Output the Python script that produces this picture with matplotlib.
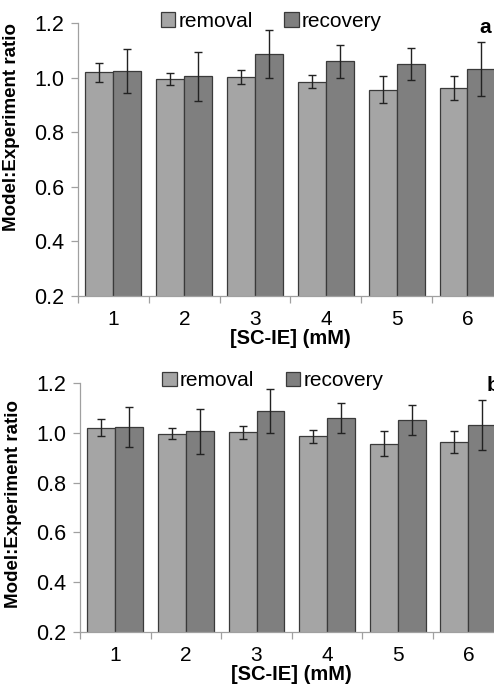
import numpy as np
import matplotlib
matplotlib.use('Agg')
import matplotlib.pyplot as plt

plt.rcParams['font.family'] = ['Liberation Sans', 'DejaVu Sans']

conc = ['1', '2', '3', '4', '5', '6']

removal = [1.02, 0.995, 1.002, 0.985, 0.956, 0.962]
removal_err = [0.035, 0.022, 0.026, 0.025, 0.05, 0.043]
recovery = [1.024, 1.005, 1.085, 1.06, 1.05, 1.032]
recovery_err = [0.08, 0.09, 0.088, 0.06, 0.06, 0.1]

c_removal = '#a5a5a5'
c_recovery = '#7f7f7f'
axis_grey = '#a0a0a0'

fig = plt.figure(figsize=(4.94, 6.94), dpi=100)

# axes positions (figure coords), right edge runs past the figure like the original crop
ax_a = fig.add_axes([0.158, 0.5735, 0.86, 0.3934])
ax_b = fig.add_axes([0.162, 0.0889, 0.8575, 0.3597])


def draw_panel(ax, letter, letter_xy, ylabel_y):
    x = np.arange(len(conc))
    w = 0.395
    ax.bar(x - w / 2, removal, w, bottom=0, color=c_removal, edgecolor='#3a3a3a',
           linewidth=0.9, label='removal', zorder=2)
    ax.bar(x + w / 2, recovery, w, bottom=0, color=c_recovery, edgecolor='#3a3a3a',
           linewidth=0.9, label='recovery', zorder=2)
    ax.errorbar(x - w / 2, removal, yerr=removal_err, fmt='none', ecolor='#222222',
                elinewidth=1.0, capsize=3.2, capthick=1.0, zorder=3)
    ax.errorbar(x + w / 2, recovery, yerr=recovery_err, fmt='none', ecolor='#222222',
                elinewidth=1.0, capsize=3.2, capthick=1.0, zorder=3)

    ax.set_ylim(0.2, 1.2)
    ax.set_xlim(-0.5, len(conc) - 0.5)
    ax.set_yticks([0.2, 0.4, 0.6, 0.8, 1.0, 1.2])
    ax.set_yticklabels(['0.2', '0.4', '0.6', '0.8', '1.0', '1.2'])
    ax.set_xticks(x)
    ax.set_xticklabels(conc)
    ax.set_xticks(np.arange(len(conc)) - 0.5, minor=True)
    ax.tick_params(axis='x', which='major', length=0, pad=10, labelsize=15)
    ax.tick_params(axis='x', which='minor', length=5, color=axis_grey, width=0.9)
    ax.tick_params(axis='y', length=5, color=axis_grey, width=0.9, labelsize=15.5, pad=5)

    for s in ['top', 'right']:
        ax.spines[s].set_visible(False)
    for s in ['left', 'bottom']:
        ax.spines[s].set_color(axis_grey)
        ax.spines[s].set_linewidth(0.9)

    ax.set_xlabel('[SC-IE] (mM)', fontsize=14.5, fontweight='bold', labelpad=0)
    ax.set_ylabel('Model:Experiment ratio', fontsize=13.5, fontweight='bold')
    ax.yaxis.set_label_coords(-0.137, ylabel_y)

    leg = ax.legend(loc='center', bbox_to_anchor=(0.455, 1.007), ncol=2, frameon=False,
                    fontsize=15, handlelength=0.7, handleheight=0.7, handletextpad=0.15,
                    columnspacing=1.5, borderaxespad=0)
    for h in leg.legend_handles:
        h.set_edgecolor('#3a3a3a')
        h.set_linewidth(0.9)

    fig.text(letter_xy[0], letter_xy[1], letter, fontsize=15, fontweight='bold',
             ha='center', va='center')


draw_panel(ax_a, 'a', (0.983, 0.961), 0.62)
draw_panel(ax_b, 'b', (0.998, 0.444), 0.514)

fig.savefig('out.png', dpi=100)
